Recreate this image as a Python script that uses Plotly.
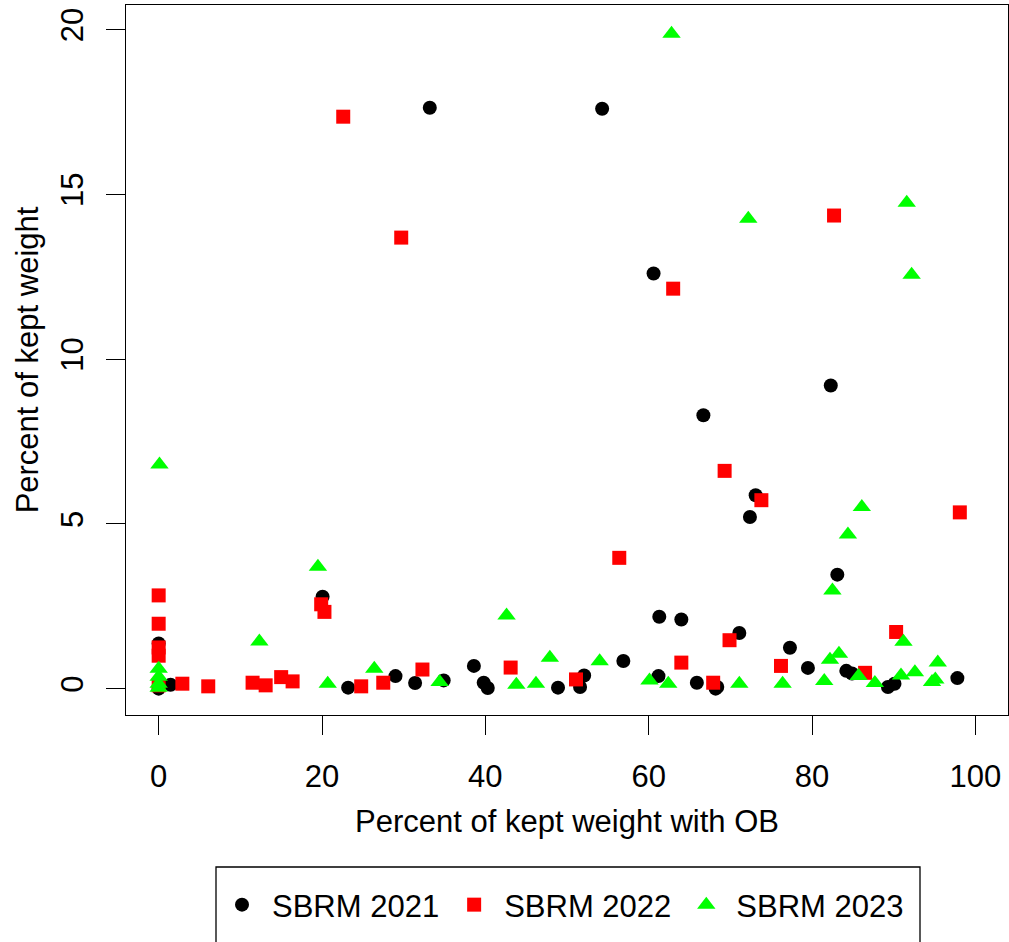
import plotly.graph_objects as go

# ---- data ----
x_2021 = [33.2, 54.3, 60.6, 66.7, 82.3, 73.1, 72.4, 83.1, 20.07, 61.3, 64.0, 71.1, 77.3, 56.9,
          38.6, 79.5, 0.0, 29.0, 31.4, 23.2, 1.46, 0.0, 34.9, 39.8, 40.3, 48.9, 52.1, 51.6,
          61.2, 65.9, 68.2, 68.4, 84.2, 84.9, 89.3, 90.1, 97.8]
y_2021 = [17.63, 17.6, 12.6, 8.3, 9.2, 5.87, 5.21, 3.46, 2.79, 2.18, 2.10, 1.69, 1.24, 0.84,
          0.69, 0.63, 1.37, 0.38, 0.17, 0.03, 0.12, 0.0, 0.25, 0.18, 0.02, 0.03, 0.40, 0.05,
          0.38, 0.18, 0.0, 0.05, 0.54, 0.46, 0.05, 0.15, 0.32]

x_2022 = [22.6, 29.7, 63.0, 82.7, 69.3, 73.8, 98.1, 56.4, 0.0, 0.0, 0.0, 0.0, 0.0, 19.9, 20.3,
          2.9, 6.07, 11.5, 13.1, 15.0, 16.4, 24.8, 27.5, 32.3, 43.1, 51.1, 64.0, 67.9, 69.9,
          76.2, 86.5, 90.3]
y_2022 = [17.36, 13.69, 12.14, 14.36, 6.61, 5.72, 5.35, 3.97, 2.83, 1.97, 1.25, 1.0, 0.1, 2.56, 2.33,
          0.15, 0.07, 0.18, 0.10, 0.35, 0.22, 0.07, 0.18, 0.58, 0.64, 0.28, 0.79, 0.18, 1.47,
          0.69, 0.48, 1.72]

x_2023 = [62.8, 72.2, 91.6, 92.2, 0.1, 86.1, 84.4, 82.5, 19.5, 42.6, 12.33, 0.0, 0.0, 0.0, 0.0,
          20.7, 26.4, 34.4, 43.8, 46.2, 47.9, 54.0, 60.1, 62.4, 71.1, 76.4, 81.5, 82.2, 83.3,
          85.7, 87.7, 91.2, 90.9, 92.6, 94.7, 95.1, 95.4]
y_2023 = [19.88, 14.26, 14.75, 12.56, 6.8, 5.51, 4.68, 2.98, 3.70, 2.22, 1.43, 0.6, 0.36, 0.15, 0.03,
          0.15, 0.6, 0.2, 0.12, 0.15, 0.94, 0.83, 0.25, 0.15, 0.15, 0.15, 0.23, 0.88, 1.06,
          0.38, 0.17, 1.42, 0.4, 0.5, 0.2, 0.28, 0.79]

series_names = ["SBRM 2021", "SBRM 2022", "SBRM 2023"]
x_ticks = [0, 20, 40, 60, 80, 100]
y_ticks = [0, 5, 10, 15, 20]

FONT = "Liberation Sans, Arial, sans-serif"
FS = 31

fig = go.Figure()
fig.add_trace(go.Scatter(x=x_2021, y=y_2021, mode="markers", name=series_names[0],
                         marker=dict(symbol="circle", size=14, color="black")))
fig.add_trace(go.Scatter(x=x_2022, y=y_2022, mode="markers", name=series_names[1],
                         marker=dict(symbol="square", size=14, color="#FF0000")))
fig.add_trace(go.Scatter(x=x_2023, y=y_2023, mode="markers", name=series_names[2],
                         marker=dict(symbol="triangle-up", size=16, color="#00FF00")))

axis_common = dict(showline=True, linecolor="black", linewidth=1.3, mirror=True,
                   ticks="outside", ticklen=19, tickwidth=1.3, tickcolor="black",
                   showgrid=False, zeroline=False, tickfont=dict(family=FONT, size=FS, color="black"))

fig.update_xaxes(range=[-4, 104], tickvals=x_ticks, ticktext=[str(v) for v in x_ticks],
                 ticklabelstandoff=15,
                 title=dict(text="Percent of kept weight with OB", font=dict(family=FONT, size=FS, color="black"),
                            standoff=16),
                 **axis_common)
fig.update_yaxes(range=[-0.8, 20.75], tickvals=y_ticks, ticktext=[str(v) for v in y_ticks],
                 tickangle=-90, ticklabelstandoff=10,
                 title=dict(text="Percent of kept weight", font=dict(family=FONT, size=FS, color="black"),
                            standoff=7),
                 **axis_common)

fig.add_shape(type="rect", xref="paper", yref="paper",
              x0=(216 - 126) / 882, x1=(920 - 126) / 882,
              y0=(715 - 960) / 710, y1=(715 - 867) / 710,
              line=dict(color="black", width=1.3), fillcolor="rgba(0,0,0,0)")

fig.update_layout(
    width=1009, height=942,
    margin=dict(l=126, r=1, t=5, b=227, autoexpand=False),
    paper_bgcolor="white", plot_bgcolor="white",
    showlegend=True,
    legend=dict(orientation="h", x=(212 - 126) / 882, xanchor="left",
                y=(715 - 878) / 710, yanchor="top",
                font=dict(family=FONT, size=FS, color="black"),
                itemwidth=50,
                borderwidth=0, bgcolor="rgba(0,0,0,0)", itemsizing="trace"),
)

fig.write_html("out.html")
